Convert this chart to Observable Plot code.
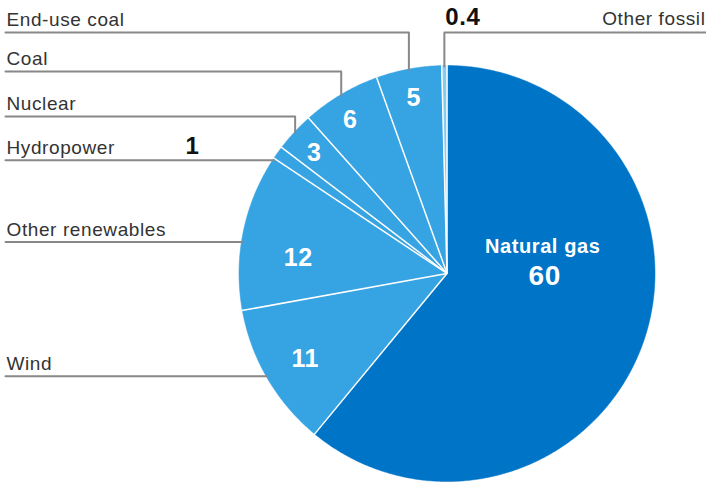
<!DOCTYPE html>
<html>
<head>
<meta charset="utf-8">
<script src="https://cdn.jsdelivr.net/npm/d3@7"></script>
<script src="https://cdn.jsdelivr.net/npm/@observablehq/plot@0.6"></script>
<style>
  html, body { margin: 0; padding: 0; background: #fff; }
  svg text { letter-spacing: 0.6px; }
</style>
</head>
<body>
<div id="chart"></div>
<script>
// ---- data (clockwise from 12 o'clock) ----
const names  = ["Natural gas", "Wind", "Other renewables", "Hydropower", "Nuclear", "Coal", "End-use coal", "Other fossil"];
const values = [60, 11, 12, 1, 3, 6, 5, 0.4];
const valueLabels = ["60", "11", "12", "1", "3", "6", "5", "0.4"];
const colors = ["#0074c6", "#36a3e3", "#36a3e3", "#36a3e3", "#36a3e3", "#36a3e3", "#36a3e3", "#86cbf1"];

// ---- layout ----
const W = 706, H = 482;
const cx = 446.5, cy = 273, R = 208;

const rows = names.map((name, i) => ({name, value: values[i], label: valueLabels[i], color: colors[i]}));
const arcs = d3.pie().sort(null).value(d => d.value)(rows);

const pt = (a, r) => ({x: cx + r * Math.sin(a), y: cy - r * Math.cos(a)});

// slice polygons
const slicePts = [];
arcs.forEach(a => {
  const n = Math.max(2, Math.ceil((a.endAngle - a.startAngle) / (Math.PI / 360)) + 1);
  slicePts.push({name: a.data.name, color: a.data.color, ...pt(0, 0)});
  for (let k = 0; k < n; k++) {
    const ang = a.startAngle + (a.endAngle - a.startAngle) * k / (n - 1);
    slicePts.push({name: a.data.name, color: a.data.color, ...pt(ang, R)});
  }
});

// separators
const seps = arcs.map(a => ({p: pt(a.startAngle, R + 0.5)}));

// leader lines
const mid = a => (a.startAngle + a.endAngle) / 2;
const byName = Object.fromEntries(arcs.map(a => [a.data.name, a]));
const leftVertical = {"End-use coal": 32, "Coal": 71, "Nuclear": 116};
const leftHorizontal = {"Hydropower": -0.04, "Other renewables": -0.052, "Wind": 0.01};
const leaderPts = [];
const leftLabels = [];
for (const [name, row] of Object.entries(leftVertical)) {
  const e = pt(mid(byName[name]), R - 1);
  leaderPts.push({name, x: 5, y: row}, {name, x: e.x, y: row}, {name, x: e.x, y: e.y});
  leftLabels.push({name, y: row});
}
for (const [name, da] of Object.entries(leftHorizontal)) {
  const e = pt(mid(byName[name]) + da, R - 1);
  leaderPts.push({name, x: 5, y: e.y}, {name, x: e.x, y: e.y});
  leftLabels.push({name, y: e.y});
}
const of = pt(mid(byName["Other fossil"]), R - 1);
leaderPts.push({name: "Other fossil", x: W, y: 32}, {name: "Other fossil", x: of.x, y: 32}, {name: "Other fossil", x: of.x, y: of.y});

// in-slice value labels
const inner = {
  "Wind": {r: 0.79, da: 0},
  "Other renewables": {r: 0.72, da: -0.09},
  "Nuclear": {r: 0.87, da: 0},
  "Coal": {r: 0.88, da: -0.02},
  "End-use coal": {r: 0.87, da: 0}
};
const innerLabels = Object.entries(inner).map(([name, o]) => {
  const p = pt(mid(byName[name]) + o.da, o.r * R);
  return {label: byName[name].data.label, x: p.x, y: p.y};
});

const hydro = byName["Hydropower"].data;
const fossil = byName["Other fossil"].data;
const gas = byName["Natural gas"].data;

const chart = Plot.plot({
  width: W,
  height: H,
  margin: 0,
  x: {domain: [0, W], range: [0, W], axis: null},
  y: {domain: [0, H], range: [0, H], axis: null},
  color: {type: "identity"},
  style: {background: "#fff", fontFamily: "'Liberation Sans', Arial, sans-serif"},
  marks: [
    Plot.line(slicePts, {x: "x", y: "y", z: "name", fill: "color", stroke: "color", strokeWidth: 0.5, curve: "linear-closed"}),
    Plot.link(seps, {x1: () => cx, y1: () => cy, x2: d => d.p.x, y2: d => d.p.y, stroke: "#fff", strokeWidth: 1.5}),
    Plot.line(leaderPts, {x: "x", y: "y", z: "name", stroke: "#888", strokeWidth: 2}),
    Plot.text(leftLabels, {x: () => 6, y: d => d.y - 12.5, text: "name", textAnchor: "start", fontSize: 19, fill: "#333"}),
    Plot.text([fossil], {x: () => W - 1, y: () => 18, text: "name", textAnchor: "end", fontSize: 19, fill: "#333"}),
    Plot.text([fossil], {x: () => of.x + 1, y: () => 17, text: "label", textAnchor: "start", fontSize: 24, fontWeight: "bold", fill: "#111"}),
    Plot.text([hydro], {x: () => 185, y: () => 146, text: "label", textAnchor: "start", fontSize: 24, fontWeight: "bold", fill: "#111"}),
    Plot.text(innerLabels, {x: "x", y: d => d.y + 2, text: "label", fontSize: 25, fontWeight: "bold", fill: "#fff"}),
    Plot.text([gas], {x: () => cx + 0.46 * R, y: () => cy - 27, text: "name", fontSize: 20, fontWeight: "bold", fill: "#fff"}),
    Plot.text([gas], {x: () => cx + 0.47 * R, y: () => cy + 3, text: "label", fontSize: 28, fontWeight: "bold", fill: "#fff"})
  ]
});
document.getElementById("chart").append(chart);
</script>
</body>
</html>
